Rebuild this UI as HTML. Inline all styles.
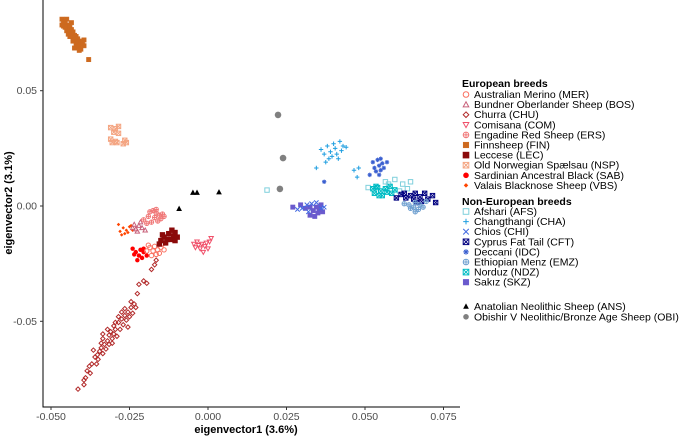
<!DOCTYPE html>
<html><head><meta charset="utf-8"><style>
html,body{margin:0;padding:0;background:#fff;}
svg{display:block;font-family:"Liberation Sans",Arial,sans-serif;}
</style></head><body>
<svg id="chart" width="685" height="437" viewBox="0 0 685 437" xmlns="http://www.w3.org/2000/svg">
<rect width="685" height="437" fill="#fff"/>
<g id="marks"></g>
<g id="axes"></g>
<g id="legend"></g>
</svg>
<script>
const xTicks=[-0.05,-0.025,0,0.025,0.05,0.075];
const xTickLabels=["-0.050","-0.025","0.000","0.025","0.050","0.075"];
const yTicks=[-0.05,0,0.05];
const yTickLabels=["-0.05","0.00","0.05"];
const breedCodes=["MER","BOS","CHU","COM","ERS","FIN","LEC","NSP","SAB","VBS","AFS","CHA","CHI","CFT","IDC","EMZ","NDZ","SKZ","ANS","OBI"];
const ptsFIN=[[-0.0465,0.081],[-0.046,0.080],[-0.0455,0.0795],[-0.045,0.081],[-0.0445,0.0785],[-0.046,0.078],[-0.0445,0.077],[-0.044,0.0775],[-0.0435,0.0765],[-0.045,0.076],[-0.044,0.0755],[-0.043,0.0755],[-0.0425,0.074],[-0.0435,0.0745],[-0.042,0.0735],[-0.043,0.073],[-0.0415,0.0725],[-0.0425,0.072],[-0.041,0.0715],[-0.042,0.0705],[-0.0405,0.071],[-0.041,0.0695],[-0.0415,0.069],[-0.04,0.0705],[-0.0405,0.068],[-0.0395,0.0695],[-0.0425,0.0685],[-0.044,0.0735],[-0.0455,0.0775],[-0.043,0.0715],[-0.0445,0.0745],[-0.0395,0.072],[-0.041,0.0675],[-0.038,0.0635],[-0.0435,0.0795],[-0.0465,0.0785]];
const ptsNSP=[[-0.031,0.034],[-0.0295,0.0335],[-0.0285,0.0345],[-0.03,0.032],[-0.0285,0.0315],[-0.031,0.029],[-0.0295,0.028],[-0.029,0.0275],[-0.0265,0.0285],[-0.026,0.0275],[-0.027,0.027],[-0.0305,0.0275]];
const ptsVBS=[[-0.0285,-0.008],[-0.028,-0.011],[-0.027,-0.0095],[-0.0265,-0.012],[-0.026,-0.0105],[-0.025,-0.009],[-0.0275,-0.0125],[-0.0255,-0.0115],[-0.0245,-0.0085],[-0.024,-0.0105]];
const ptsBOS=[[-0.0235,-0.008],[-0.023,-0.010],[-0.022,-0.0085],[-0.0225,-0.011],[-0.021,-0.0095],[-0.024,-0.0095],[-0.0215,-0.007],[-0.02,-0.0105]];
const ptsERS=[[-0.0205,-0.006],[-0.019,-0.0045],[-0.0175,-0.002],[-0.0165,-0.003],[-0.0155,-0.004],[-0.015,-0.0055],[-0.017,-0.005],[-0.016,-0.0065],[-0.0145,-0.0035],[-0.018,-0.007],[-0.0185,-0.0025],[-0.014,-0.0045],[-0.0195,-0.0075],[-0.0165,-0.0015]];
const ptsSAB=[[-0.024,-0.0185],[-0.023,-0.020],[-0.0215,-0.019],[-0.022,-0.0215],[-0.021,-0.0225],[-0.0205,-0.020],[-0.0225,-0.0235],[-0.0195,-0.0215],[-0.0235,-0.021],[-0.0205,-0.0185]];
const ptsMER=[[-0.0195,-0.0195],[-0.0185,-0.018],[-0.0175,-0.0195],[-0.017,-0.0175],[-0.016,-0.019],[-0.015,-0.018],[-0.0145,-0.0165],[-0.0165,-0.021],[-0.018,-0.0215],[-0.0155,-0.0205],[-0.014,-0.019],[-0.019,-0.017]];
const ptsLEC=[[-0.0155,-0.0165],[-0.015,-0.015],[-0.014,-0.0135],[-0.013,-0.0145],[-0.0125,-0.012],[-0.012,-0.0145],[-0.011,-0.013],[-0.0105,-0.0115],[-0.0105,-0.015],[-0.0115,-0.0105],[-0.0135,-0.016],[-0.0145,-0.0125],[-0.0098,-0.0135]];
const ptsCOM=[[-0.0045,-0.0165],[-0.004,-0.018],[-0.003,-0.017],[-0.0025,-0.0185],[-0.002,-0.0165],[-0.001,-0.0175],[-0.0005,-0.016],[0.0,-0.0185],[0.0005,-0.0155],[0.001,-0.014],[-0.0015,-0.02],[-0.0035,-0.0155]];
const ptsCHU=[[-0.0414,-0.0794],[-0.0395,-0.0755],[-0.039,-0.0745],[-0.0385,-0.0715],[-0.0375,-0.0725],[-0.0378,-0.0695],[-0.037,-0.0685],[-0.036,-0.0655],[-0.0355,-0.0685],[-0.0352,-0.0645],[-0.0345,-0.063],[-0.035,-0.0665],[-0.034,-0.0615],[-0.0335,-0.064],[-0.033,-0.060],[-0.0335,-0.0575],[-0.0325,-0.062],[-0.032,-0.0585],[-0.0315,-0.056],[-0.0315,-0.060],[-0.031,-0.0545],[-0.0305,-0.0575],[-0.030,-0.0555],[-0.030,-0.052],[-0.0295,-0.0535],[-0.029,-0.0565],[-0.0285,-0.0505],[-0.028,-0.0535],[-0.0275,-0.049],[-0.027,-0.0515],[-0.0265,-0.0475],[-0.026,-0.0495],[-0.0255,-0.046],[-0.025,-0.048],[-0.0245,-0.044],[-0.0235,-0.0425],[-0.024,-0.0465],[-0.0285,-0.048],[-0.0265,-0.0445],[-0.0245,-0.0415],[-0.023,-0.044],[-0.0225,-0.038],[-0.022,-0.034],[-0.0205,-0.0325],[-0.0195,-0.0335],[-0.018,-0.0275],[-0.017,-0.0255],[-0.0165,-0.0235],[-0.0365,-0.0625],[-0.032,-0.0535],[-0.0335,-0.0555],[-0.0295,-0.0505],[-0.0275,-0.046],[-0.0305,-0.0595],[-0.034,-0.0595],[-0.0255,-0.0525],[-0.0395,-0.0775]];
const ptsCHA=[[0.036,0.0245],[0.037,0.0225],[0.038,0.026],[0.0385,0.0205],[0.039,0.0235],[0.040,0.027],[0.0405,0.025],[0.041,0.0225],[0.042,0.028],[0.0425,0.024],[0.043,0.026],[0.044,0.0255],[0.0415,0.0205],[0.0375,0.019],[0.0345,0.0165],[0.0395,0.0215],[0.0465,0.0155],[0.048,0.0165],[0.0475,0.0125]];
const ptsIDC=[[0.0525,0.019],[0.053,0.0165],[0.054,0.02],[0.0545,0.0175],[0.055,0.0155],[0.0555,0.0185],[0.056,0.0165],[0.0535,0.015],[0.0545,0.0135],[0.057,0.019],[0.0515,0.0135],[0.055,0.0205],[0.037,0.0105]];
const ptsNDZ=[[0.0525,0.0075],[0.053,0.0055],[0.054,0.008],[0.055,0.0065],[0.0555,0.0045],[0.0565,0.0075],[0.057,0.006],[0.058,0.0085],[0.0585,0.0055],[0.0545,0.0045],[0.0535,0.0085],[0.0595,0.007]];
const ptsAFS=[[0.051,0.008],[0.0565,0.0105],[0.0595,0.0115],[0.062,0.0095],[0.0635,0.0075],[0.061,0.0065],[0.0575,0.0095],[0.0188,0.0069],[0.0645,0.0105]];
const ptsCFT=[[0.060,0.0035],[0.0615,0.005],[0.063,0.0035],[0.0645,0.0045],[0.0655,0.003],[0.066,0.0055],[0.0675,0.004],[0.069,0.0055],[0.070,0.003],[0.0715,0.0045],[0.068,0.002],[0.0665,0.0015],[0.0625,0.0055],[0.0725,0.0015]];
const ptsEMZ=[[0.0625,0.001],[0.064,0.0005],[0.0655,-0.0005],[0.066,0.0015],[0.067,-0.0015],[0.0675,0.0005],[0.0685,-0.0005],[0.066,-0.0025],[0.0645,-0.001],[0.0695,0.002]];
const ptsSKZ=[[0.0295,0.0005],[0.031,-0.001],[0.0325,-0.0005],[0.0335,-0.002],[0.0345,-0.0005],[0.035,-0.003],[0.0355,-0.0015],[0.0365,-0.0025],[0.034,-0.0045],[0.0325,-0.004],[0.027,-0.0005],[0.036,0.0005]];
const ptsCHI=[[0.030,-0.001],[0.0315,0.0005],[0.033,0.001],[0.0345,0.0015],[0.036,-0.001],[0.037,-0.0005],[0.0285,-0.0015],[0.032,-0.0025]];
const ptsANS=[[-0.0092,-0.0012],[-0.0048,0.0058],[-0.0035,0.0058],[0.0035,0.006]];
const ptsOBI=[[0.0223,0.0395],[0.0239,0.0208],[0.0229,0.0074]];

const NS="http://www.w3.org/2000/svg";
function X(v){return 208+v*3140;}
function Y(v){return 206-v*2306;}
function mk(tag,attrs,parent){const e=document.createElementNS(NS,tag);for(const k in attrs)e.setAttribute(k,attrs[k]);parent.appendChild(e);return e;}
const series=[
 {code:"FIN",pts:ptsFIN,shape:"sqfill",color:"#cd6a1f",label:"Finnsheep (FIN)"},
 {code:"NSP",pts:ptsNSP,shape:"sqx",color:"#f4a582",label:"Old Norwegian Spælsau (NSP)"},
 {code:"CHU",pts:ptsCHU,shape:"diamond",color:"#b22a2a",label:"Churra (CHU)"},
 {code:"VBS",pts:ptsVBS,shape:"dfill",color:"#ff4500",label:"Valais Blacknose Sheep (VBS)"},
 {code:"BOS",pts:ptsBOS,shape:"tri",color:"#c8607a",label:"Bundner Oberlander Sheep (BOS)"},
 {code:"ERS",pts:ptsERS,shape:"cplus",color:"#f07878",label:"Engadine Red Sheep (ERS)"},
 {code:"SAB",pts:ptsSAB,shape:"cfill",color:"#ff0000",label:"Sardinian Ancestral Black (SAB)"},
 {code:"MER",pts:ptsMER,shape:"circle",color:"#fa7060",label:"Australian Merino (MER)"},
 {code:"LEC",pts:ptsLEC,shape:"sqplus",color:"#8b0a0a",label:"Leccese (LEC)"},
 {code:"COM",pts:ptsCOM,shape:"itri",color:"#f0506a",label:"Comisana (COM)"},
 {code:"CHA",pts:ptsCHA,shape:"plus",color:"#1e9ee0",label:"Changthangi (CHA)"},
 {code:"IDC",pts:ptsIDC,shape:"ast",color:"#3a5fd0",label:"Deccani (IDC)"},
 {code:"AFS",pts:ptsAFS,shape:"sq",color:"#7fd0dc",label:"Afshari (AFS)"},
 {code:"NDZ",pts:ptsNDZ,shape:"sqx",color:"#00bcc4",label:"Norduz (NDZ)"},
 {code:"CFT",pts:ptsCFT,shape:"sqx",color:"#000080",label:"Cyprus Fat Tail (CFT)"},
 {code:"EMZ",pts:ptsEMZ,shape:"cplus",color:"#6fa0d0",label:"Ethiopian Menz (EMZ)"},
 {code:"SKZ",pts:ptsSKZ,shape:"sqfill",color:"#6a5acd",label:"Sakız (SKZ)"},
 {code:"CHI",pts:ptsCHI,shape:"x",color:"#4169e1",label:"Chios (CHI)"},
 {code:"ANS",pts:ptsANS,shape:"trifill",color:"#000000",label:"Anatolian Neolithic Sheep (ANS)"},
 {code:"OBI",pts:ptsOBI,shape:"big",color:"#808080",label:"Obishir V Neolithic/Bronze Age Sheep (OBI)"}
];
function marker(g,shape,x,y,c,s){
 const w=1;
 switch(shape){
  case "circle":mk("circle",{cx:x,cy:y,r:s,fill:"none",stroke:c,"stroke-width":w},g);break;
  case "cfill":mk("circle",{cx:x,cy:y,r:s,fill:c},g);break;
  case "big":mk("circle",{cx:x,cy:y,r:s*1.5,fill:c},g);break;
  case "cplus":mk("circle",{cx:x,cy:y,r:s,fill:"none",stroke:c,"stroke-width":w},g);mk("path",{d:`M${x-s} ${y}H${x+s}M${x} ${y-s}V${y+s}`,stroke:c,"stroke-width":w},g);break;
  case "sq":mk("rect",{x:x-s,y:y-s,width:2*s,height:2*s,fill:"none",stroke:c,"stroke-width":w},g);break;
  case "sqfill":mk("rect",{x:x-s,y:y-s,width:2*s,height:2*s,fill:c,stroke:c,"stroke-width":0.5},g);break;
  case "sqx":mk("rect",{x:x-s,y:y-s,width:2*s,height:2*s,fill:"none",stroke:c,"stroke-width":w},g);mk("path",{d:`M${x-s} ${y-s}L${x+s} ${y+s}M${x+s} ${y-s}L${x-s} ${y+s}`,stroke:c,"stroke-width":w},g);break;
  case "sqplus":mk("rect",{x:x-s,y:y-s,width:2*s,height:2*s,fill:c,stroke:c,"stroke-width":w},g);break;
  case "diamond":mk("path",{d:`M${x} ${y-s}L${x+s} ${y}L${x} ${y+s}L${x-s} ${y}Z`,fill:"none",stroke:c,"stroke-width":w},g);break;
  case "dfill":mk("path",{d:`M${x} ${y-s*0.8}L${x+s*0.8} ${y}L${x} ${y+s*0.8}L${x-s*0.8} ${y}Z`,fill:c},g);break;
  case "tri":mk("path",{d:`M${x} ${y-s}L${x+s} ${y+s*0.8}L${x-s} ${y+s*0.8}Z`,fill:"none",stroke:c,"stroke-width":w},g);break;
  case "trifill":mk("path",{d:`M${x} ${y-s*1.4}L${x+s*1.3} ${y+s}L${x-s*1.3} ${y+s}Z`,fill:c},g);break;
  case "itri":mk("path",{d:`M${x} ${y+s}L${x+s} ${y-s*0.8}L${x-s} ${y-s*0.8}Z`,fill:"none",stroke:c,"stroke-width":w},g);break;
  case "plus":mk("path",{d:`M${x-s} ${y}H${x+s}M${x} ${y-s}V${y+s}`,stroke:c,"stroke-width":w},g);break;
  case "x":mk("path",{d:`M${x-s} ${y-s}L${x+s} ${y+s}M${x+s} ${y-s}L${x-s} ${y+s}`,stroke:c,"stroke-width":w},g);break;
  case "ast":mk("path",{d:`M${x-s} ${y}H${x+s}M${x} ${y-s}V${y+s}M${x-s*.7} ${y-s*.7}L${x+s*.7} ${y+s*.7}M${x+s*.7} ${y-s*.7}L${x-s*.7} ${y+s*.7}`,stroke:c,"stroke-width":w},g);break;
 }
}
const marks=document.getElementById("marks");
series.forEach(s=>{
 const g=mk("g",{},marks);
 
 
 s.pts.forEach(p=>{marker(g,s.shape,X(p[0]),Y(p[1]),s.color,2.2);});
});
// axes
const ax=document.getElementById("axes");
mk("path",{d:"M43 0V407H460",stroke:"#000","stroke-width":1,fill:"none"},ax);
xTicks.forEach((t,i)=>{
 mk("path",{d:`M${X(t)} 407V410`,stroke:"#333","stroke-width":1},ax);
 const tx=mk("text",{x:X(t),y:420,"text-anchor":"middle","font-size":"10.5",fill:"#4d4d4d"},ax);
 tx.textContent=xTickLabels[i];
 
 
});
yTicks.forEach((t,i)=>{
 mk("path",{d:`M40 ${Y(t)}H43`,stroke:"#333","stroke-width":1},ax);
 const tx=mk("text",{x:37,y:Y(t)+3.5,"text-anchor":"end","font-size":"10.5",fill:"#4d4d4d"},ax);
 tx.textContent=yTickLabels[i];
 
 
});
const xt=mk("text",{x:246,y:433,"text-anchor":"middle","font-size":"11","font-weight":"bold",fill:"#000"},ax);
xt.textContent="eigenvector1 (3.6%)";


const yt=mk("text",{x:0,y:0,transform:"translate(12,203) rotate(-90)","text-anchor":"middle","font-size":"11","font-weight":"bold",fill:"#000"},ax);
yt.textContent="eigenvector2 (3.1%)";


// legend
const lg=document.getElementById("legend");
const eu=["MER","BOS","CHU","COM","ERS","FIN","LEC","NSP","SAB","VBS"];
const ne=["AFS","CHA","CHI","CFT","IDC","EMZ","NDZ","SKZ"];
const an=["ANS","OBI"];
function head(txt,y){const t=mk("text",{x:462,y:y,"font-size":"10.5","font-weight":"bold",fill:"#000"},lg);t.textContent=txt;}
function entry(code,y){
 const s=series.find(q=>q.code===code);
 const g=mk("g",{},lg);
 
 
 marker(g,s.shape==="big"?"cfill":s.shape,466,y-3.5,s.color,s.shape==="trifill"?2.2:2.8);
 const t=mk("text",{x:474,y:y,"font-size":"10.5",fill:"#000"},g);t.textContent=s.label;
}
head("European breeds",87);
eu.forEach((c,i)=>entry(c,98+i*10.1));
head("Non-European breeds",205);
ne.forEach((c,i)=>entry(c,215+i*10.1));
an.forEach((c,i)=>entry(c,310+i*10.3));
</script>
</body></html>
